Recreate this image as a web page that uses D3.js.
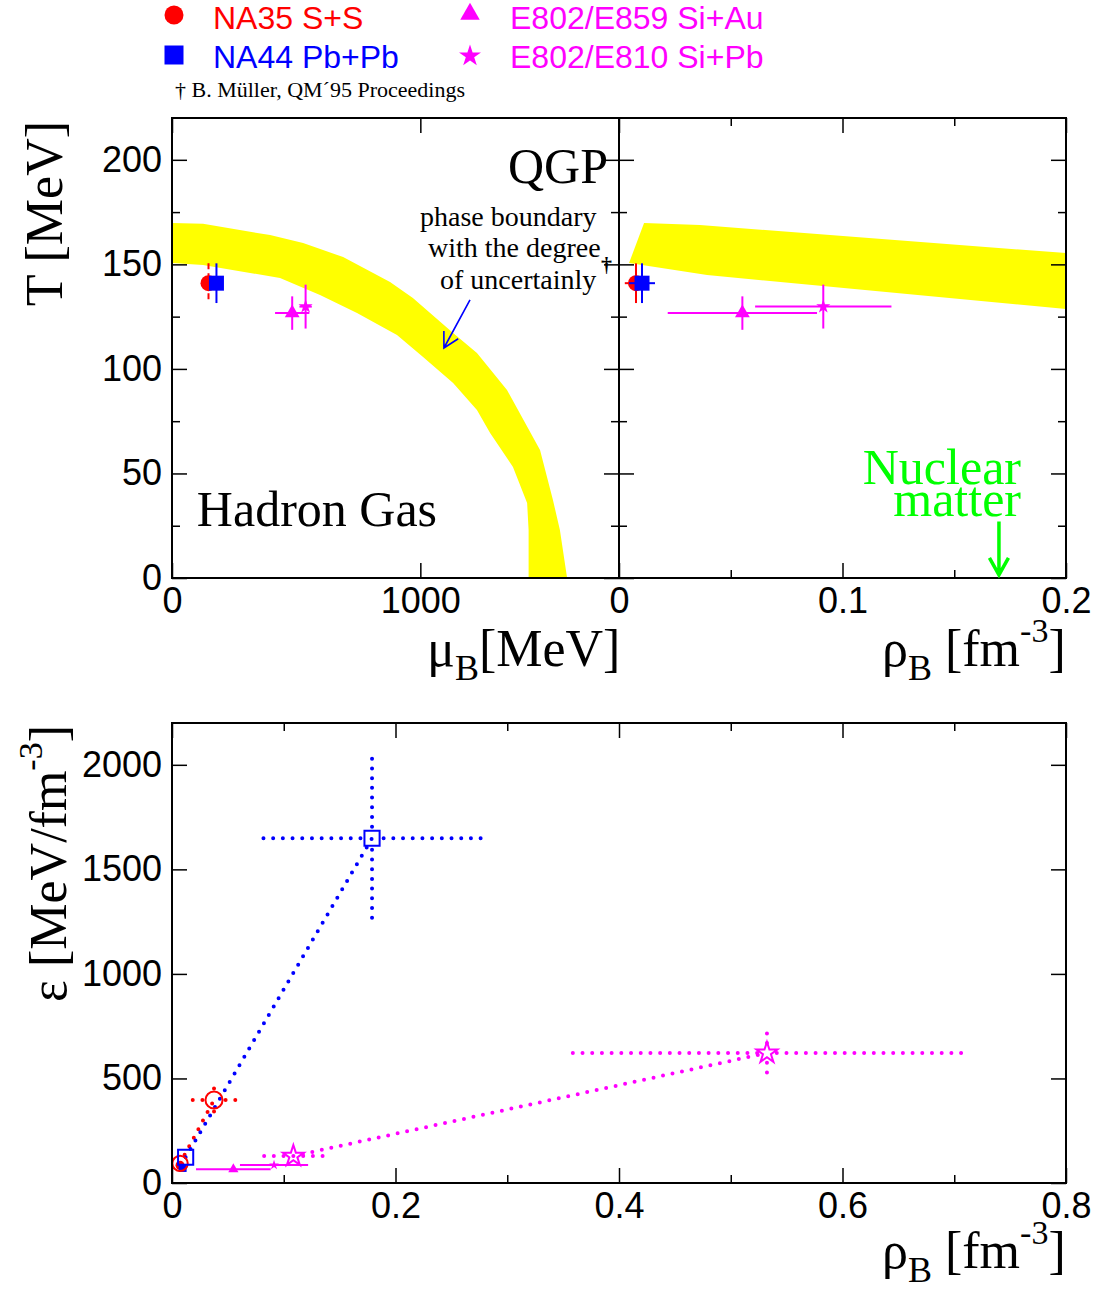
<!DOCTYPE html>
<html>
<head>
<meta charset="utf-8">
<script src="https://cdn.jsdelivr.net/npm/d3@7"></script>
<style>
  body { margin: 0; background: #fff; }
  .tick text { font-family: "Liberation Sans", Arial, sans-serif; font-size: 36px; fill: #000; }
  .tick line { stroke: #000; stroke-width: 1.5px; }
  .serif { font-family: "Liberation Serif", "Times New Roman", serif; }
  .sans { font-family: "Liberation Sans", Arial, sans-serif; }
</style>
</head>
<body>
<div id="chart"></div>
<script>
// ---- data ----
let seriesNames = ["NA35 S+S", "NA44 Pb+Pb", "E802/E859 Si+Au", "E802/E810 Si+Pb"];

// T vs mu_B (top left)
let muB = [147, 179, 484, 538];
let muBErr = [0, 0, 69, 25];
let temp = [141, 141, 126.7, 129.8];
let tempErr = [9.5, 9.5, 8, 10.5];

// T vs rho_B (top right)
let rhoB = [0.0076, 0.0103, 0.0552, 0.0914];
let rhoBErr = [0.005, 0.0058, 0.0334, 0.0305];

// epsilon vs rho_B, filled points (bottom)
let epsRho = [0.0072, 0.0095, 0.0549, 0.0913];
let epsRhoErr = [0, 0, 0.0334, 0.0305];
let eps = [85, 72, 66, 86];

// epsilon vs rho_B, open points, pairs joined by dotted line
let openSeries = [0, 1, 3];
let openRho = [[0.0072, 0.0376], [0.0122, 0.179], [0.1086, 0.5324]];
let openRhoErr = [[0, 0.02], [0, 0.0992], [0.033, 0.176]];
let openEps = [[94, 397], [123, 1649], [129, 622]];
let openEpsErr = [[0, 60], [0, 392], [0, 111]];

// phase boundary band (mu_B, T)
let bandOuterMu = [0, 125, 395, 528, 689, 878, 970, 1132, 1228, 1349, 1482, 1534, 1562, 1591];
let bandOuterT = [169.8, 169.4, 164.0, 160.2, 153.5, 141.6, 133.9, 117.2, 107.6, 89.9, 61.2, 37.3, 23.0, 0];
let bandInnerMu = [0, 125, 435, 596, 745, 906, 1011, 1132, 1228, 1281, 1373, 1430, 1436, 1436];
let bandInnerT = [150.6, 149.7, 143.5, 135.3, 126.7, 116.2, 105.7, 93.3, 80.3, 69.3, 53.1, 35.9, 23.0, 0];

// phase boundary band (rho_B, T)
let bandRho = [0.0045, 0.0112, 0.0362, 0.2, 0.2, 0.0394];
let bandRhoT = [150.6, 169.8, 168.8, 155.4, 128.6, 144.9];

let nuclearRho = 0.17;

// ticks
let tTicks = [0, 50, 100, 150, 200], tMinor = [25, 75, 125, 175];
let muTicks = [0, 1000];
let rhoTicks = [0, 0.1, 0.2], rhoMinor = [0.05, 0.15];
let epsTicks = [0, 500, 1000, 1500, 2000];
let rho2Ticks = [0, 0.2, 0.4, 0.6, 0.8], rho2Minor = [0.1, 0.3, 0.5, 0.7];

// ---- styles ----
let colors = ["#ff0000", "#0000ff", "#ff00ff", "#ff00ff"];
let symbols = [d3.symbolCircle, d3.symbolSquare, d3.symbolTriangle, d3.symbolStar];
let topSizes = [201, 225, 95, 62];
let botSizes = [64, 64, 45, 30];
let legendSizes = [283, 361, 165, 150];
let openSizes = [[185, 230], [230, 230], [136, 136]];
let yellow = "#ffff00", green = "#00ff00";

let svg = d3.select("#chart")
  .append("svg")
    .attr("width", 1096)
    .attr("height", 1290);

let x1 = d3.scaleLinear().domain([0, 1800]).range([172, 619]);
let x2 = d3.scaleLinear().domain([0, 0.2]).range([619, 1066]);
let y1 = d3.scaleLinear().domain([0, 220]).range([578, 118]);
let x3 = d3.scaleLinear().domain([0, 0.8]).range([172, 1066]);
let y3 = d3.scaleLinear().domain([0, 2200]).range([1183, 723]);

// clip paths for each frame
let defs = svg.append("defs");
function clip(id, x, y) {
  defs.append("clipPath").attr("id", id)
    .append("rect")
      .attr("x", x.range()[0]).attr("y", y.range()[1])
      .attr("width", x.range()[1] - x.range()[0])
      .attr("height", y.range()[0] - y.range()[1]);
}
clip("c1", x1, y1); clip("c2", x2, y1); clip("c3", x3, y3);

let p1 = svg.append("g").attr("clip-path", "url(#c1)");
let p2 = svg.append("g").attr("clip-path", "url(#c2)");
let p3 = svg.append("g").attr("clip-path", "url(#c3)");

// ---- bands ----
let bandPts = bandOuterMu.map((m, i) => [x1(m), y1(bandOuterT[i])])
  .concat(bandInnerMu.map((m, i) => [x1(m), y1(bandInnerT[i])]).reverse());
p1.append("path")
  .attr("d", d3.line()(bandPts) + "Z")
  .style("fill", yellow);

p2.append("path")
  .attr("d", d3.line()(bandRho.map((r, i) => [x2(r), y1(bandRhoT[i])])) + "Z")
  .style("fill", yellow);

// ---- top panels: points with error bars ----
function topPoints(g, xs, xErr, xScale, dashRed) {
  seriesNames.forEach((name, i) => {
    let cx = xScale(xs[i]), cy = y1(temp[i]);
    g.append("line")
      .attr("x1", cx).attr("x2", cx)
      .attr("y1", y1(temp[i] + tempErr[i])).attr("y2", y1(temp[i] - tempErr[i]))
      .style("stroke", colors[i]).style("stroke-width", 2)
      .style("stroke-dasharray", (dashRed && i == 0) ? "6 4" : null);
    if (xErr[i] > 0) {
      g.append("line")
        .attr("x1", xScale(xs[i] - xErr[i])).attr("x2", xScale(xs[i] + xErr[i]))
        .attr("y1", cy).attr("y2", cy)
        .style("stroke", colors[i]).style("stroke-width", 2);
    }
    g.append("path")
      .attr("transform", "translate(" + cx + "," + cy + ")")
      .attr("d", d3.symbol(symbols[i], topSizes[i])())
      .style("fill", colors[i]);
  });
}
topPoints(p1, muB, muBErr, x1, true);
topPoints(p2, rhoB, rhoBErr, x2, false);

// ---- bottom panel ----
let dotted = g => g.style("stroke-width", 4)
  .style("stroke-dasharray", "0 9.7")
  .style("stroke-linecap", "round")
  .style("fill", "none");

// dotted connecting lines + dotted error bars
openSeries.forEach((s, k) => {
  p3.append("line")
    .attr("x1", x3(openRho[k][0])).attr("y1", y3(openEps[k][0]))
    .attr("x2", x3(openRho[k][1])).attr("y2", y3(openEps[k][1]))
    .style("stroke", colors[s]).call(dotted);

  [0, 1].forEach(j => {
    let cx = x3(openRho[k][j]), cy = y3(openEps[k][j]);
    let gap = Math.sqrt(openSizes[k][j]) / 2 + 4;
    if (openRhoErr[k][j] > 0) {
      let xl = x3(openRho[k][j] - openRhoErr[k][j]), xr = x3(openRho[k][j] + openRhoErr[k][j]);
      p3.append("path")
        .attr("d", "M" + (cx - gap) + "," + cy + "L" + xl + "," + cy + "M" + (cx + gap) + "," + cy + "L" + xr + "," + cy)
        .style("stroke", colors[s]).call(dotted);
    }
    if (openEpsErr[k][j] > 0) {
      let yt = y3(openEps[k][j] + openEpsErr[k][j]), yb = y3(openEps[k][j] - openEpsErr[k][j]);
      p3.append("path")
        .attr("d", "M" + cx + "," + (cy - gap) + "L" + cx + "," + yt + "M" + cx + "," + (cy + gap) + "L" + cx + "," + yb)
        .style("stroke", colors[s]).call(dotted);
    }
  });
});

// filled points with solid error bars
seriesNames.forEach((name, i) => {
  let cx = x3(epsRho[i]), cy = y3(eps[i]);
  if (epsRhoErr[i] > 0) {
    p3.append("line")
      .attr("x1", x3(epsRho[i] - epsRhoErr[i])).attr("x2", x3(epsRho[i] + epsRhoErr[i]))
      .attr("y1", cy).attr("y2", cy)
      .style("stroke", colors[i]).style("stroke-width", 2);
  }
  p3.append("path")
    .attr("transform", "translate(" + cx + "," + cy + ")")
    .attr("d", d3.symbol(symbols[i], botSizes[i])())
    .style("fill", colors[i]);
});

// open markers
openSeries.forEach((s, k) => {
  [0, 1].forEach(j => {
    p3.append("path")
      .attr("transform", "translate(" + x3(openRho[k][j]) + "," + y3(openEps[k][j]) + ")")
      .attr("d", d3.symbol(symbols[s], openSizes[k][j])())
      .style("fill", "none")
      .style("stroke", colors[s])
      .style("stroke-width", 2);
  });
});

// ---- axes ----
function frame(x, y, xMaj, xMin, yMaj, yMin, showY) {
  let bottom = y.range()[0], top = y.range()[1];
  let left = x.range()[0], right = x.range()[1];
  let fmt = d3.format("");

  let ax = [
    [d3.axisBottom(x), bottom, "x", xMaj, xMin, true],
    [d3.axisTop(x), top, "x", xMaj, xMin, false],
    [d3.axisLeft(y), left, "y", yMaj, yMin, showY],
    [d3.axisRight(y), right, "y", yMaj, yMin, false]
  ];
  ax.forEach(a => {
    let tr = a[2] == "x" ? "translate(0," + a[1] + ")" : "translate(" + a[1] + ",0)";
    svg.append("g")
      .attr("transform", tr)
      .call(a[0].tickValues(a[3]).tickSize(-15).tickPadding(a[2] == "x" ? 9 : 10)
        .tickFormat(a[5] ? fmt : ""))
      .call(g => g.select(".domain").remove());
    if (a[4].length) {
      svg.append("g")
        .attr("transform", tr)
        .call(a[0].tickValues(a[4]).tickSize(-8).tickFormat(""))
        .call(g => g.select(".domain").remove());
    }
  });

  svg.append("rect")
    .attr("x", left).attr("y", top)
    .attr("width", right - left).attr("height", bottom - top)
    .style("fill", "none").style("stroke", "#000").style("stroke-width", 2);
}
frame(x1, y1, muTicks, [], tTicks, tMinor, true);
frame(x2, y1, rhoTicks, rhoMinor, tTicks, tMinor, false);
frame(x3, y3, rho2Ticks, rho2Minor, epsTicks, [], true);

// ---- annotations ----
let big = t => t.attr("class", "serif").style("font-size", "50px");
svg.append("text").attr("x", x1(1353)).attr("y", y1(189)).call(big).text("QGP");
svg.append("text").attr("x", x1(100)).attr("y", y1(25)).call(big).text("Hadron Gas");

let phaseLines = ["phase boundary", "with the degree", "of uncertainly"];
let phaseX = [420, 428, 440], phaseY = [226, 257, 289];
phaseLines.forEach((l, i) => {
  svg.append("text")
    .attr("class", "serif")
    .attr("x", phaseX[i]).attr("y", phaseY[i])
    .style("font-size", "28px")
    .text(l);
});
svg.append("text").attr("class", "serif")
  .attr("x", 601).attr("y", 272).style("font-size", "22px").style("font-weight", "bold")
  .style("fill", "#000").text("†");

// blue arrow pointing to the band
let aFrom = [x1(1200), y1(133)], aTo = [x1(1095), y1(110)];
let ang = Math.atan2(aTo[1] - aFrom[1], aTo[0] - aFrom[0]);
let headLen = 17, headAng = 0.5;
svg.append("path")
  .attr("d", "M" + aFrom + "L" + aTo +
    "M" + [aTo[0] - headLen * Math.cos(ang - headAng), aTo[1] - headLen * Math.sin(ang - headAng)] +
    "L" + aTo +
    "L" + [aTo[0] - headLen * Math.cos(ang + headAng), aTo[1] - headLen * Math.sin(ang + headAng)])
  .style("fill", "none").style("stroke", "#0000ff").style("stroke-width", 1.6);

// nuclear matter
svg.append("text").attr("x", 1021).attr("y", 484).attr("text-anchor", "end")
  .call(big).style("fill", green).text("Nuclear");
svg.append("text").attr("x", 1021).attr("y", 516).attr("text-anchor", "end")
  .call(big).style("fill", green).text("matter");
let nx = x2(nuclearRho), nTop = y1(27), nTip = y1(1.5);
svg.append("path")
  .attr("d", "M" + nx + "," + nTop + "L" + nx + "," + nTip +
    "M" + (nx - 9.5) + "," + (nTip - 17) + "L" + nx + "," + nTip + "L" + (nx + 9.5) + "," + (nTip - 17))
  .style("fill", "none").style("stroke", green).style("stroke-width", 3.5);

// ---- axis titles ----
let title = t => t.attr("class", "serif").style("font-size", "52px");

svg.append("text").attr("transform", "translate(62,121) rotate(-90)")
  .attr("text-anchor", "end").call(title).text("T  [MeV]");

svg.append("text").attr("transform", "translate(66,725) rotate(-90)")
  .attr("text-anchor", "end").call(title)
  .call(t => {
    t.append("tspan").text("ε [MeV/fm");
    t.append("tspan").attr("dy", -24).style("font-size", "34px").text("-3");
    t.append("tspan").attr("dy", 24).text("]");
  });

svg.append("text").attr("x", 427).attr("y", 666).call(title)
  .call(t => {
    t.append("tspan").text("μ");
    t.append("tspan").attr("dy", 14).style("font-size", "36px").text("B");
    t.append("tspan").attr("dy", -14).text("[MeV]");
  });

function rhoTitle(x, y) {
  svg.append("text").attr("x", x).attr("y", y).call(title)
    .call(t => {
      t.append("tspan").text("ρ");
      t.append("tspan").attr("dy", 14).style("font-size", "36px").text("B");
      t.append("tspan").attr("dy", -14).text(" [fm");
      t.append("tspan").attr("dy", -24).style("font-size", "34px").text("-3");
      t.append("tspan").attr("dy", 24).text("]");
    });
}
rhoTitle(882, 666);
rhoTitle(882, 1268);

// ---- legend ----
let legX = [174, 174, 470, 470], legY = [15, 55, 14, 56];
let legTextX = [213, 213, 510, 510], legTextY = [29, 68, 29, 68];
seriesNames.forEach((name, i) => {
  svg.append("path")
    .attr("transform", "translate(" + legX[i] + "," + legY[i] + ")")
    .attr("d", d3.symbol(symbols[i], legendSizes[i])())
    .style("fill", colors[i]);
  svg.append("text")
    .attr("class", "sans")
    .attr("x", legTextX[i]).attr("y", legTextY[i])
    .style("font-size", "32px")
    .style("fill", colors[i])
    .text(name);
});
svg.append("text").attr("class", "serif")
  .attr("x", 175).attr("y", 97).style("font-size", "22px")
  .text("† B. Müller, QM´95 Proceedings");
</script>
</body>
</html>
